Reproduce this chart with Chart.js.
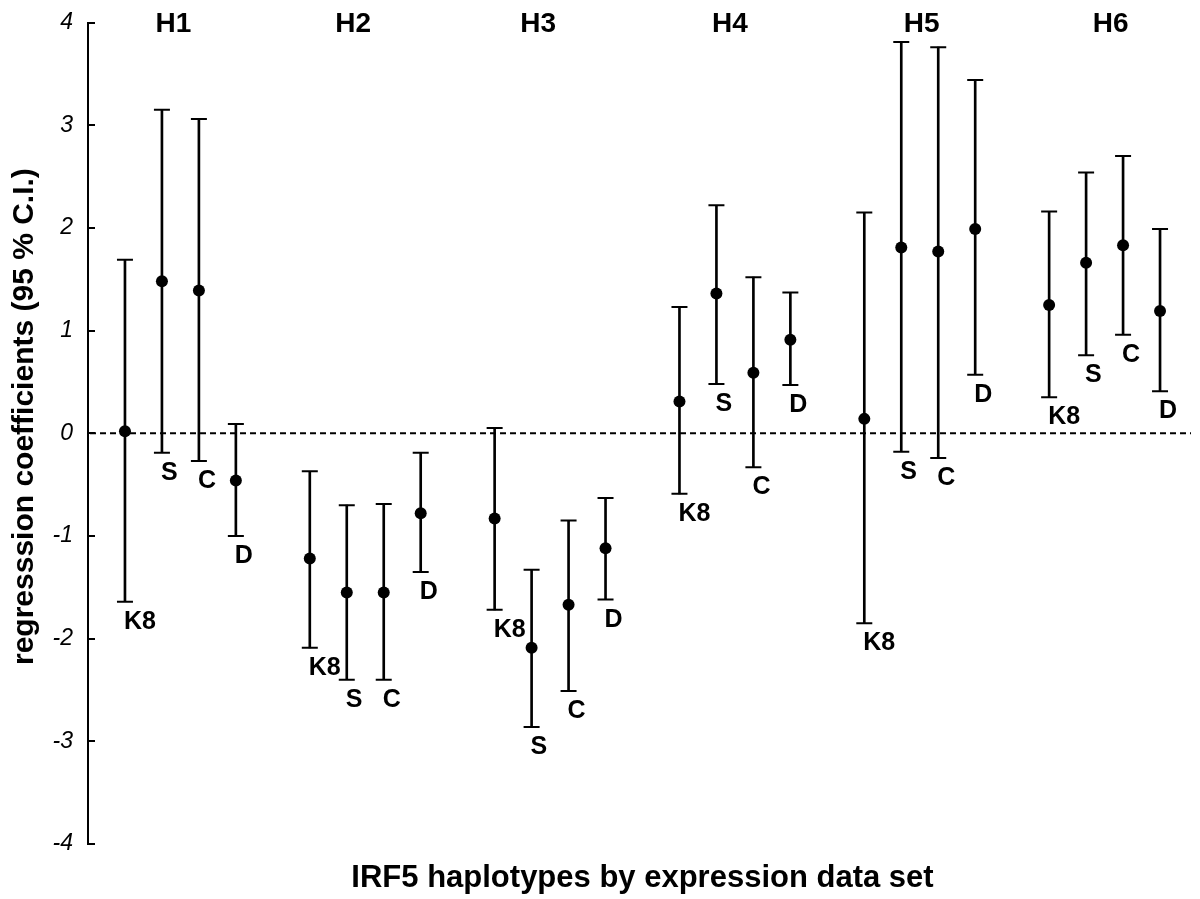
<!DOCTYPE html>
<html><head><meta charset="utf-8">
<script src="https://cdn.jsdelivr.net/npm/chart.js@4.4.1/dist/chart.umd.min.js"></script>
<style>html,body{margin:0;padding:0;background:#fff}#wrap{width:1200px;height:899px;position:relative}</style>
</head><body><div id="wrap"><canvas id="c"></canvas></div>
<script>
// ---- data ----
const haplotypes = ['H1','H2','H3','H4','H5','H6'];
const dataSets = ['K8','S','C','D'];
// ordered by haplotype, then data set (K8, S, C, D)
const estimates = [0.02,1.48,1.39,-0.46, -1.22,-1.55,-1.55,-0.78, -0.83,-2.09,-1.67,-1.12, 0.31,1.36,0.59,0.91, 0.14,1.81,1.77,1.99, 1.25,1.66,1.83,1.19];
const lowerCI   = [-1.64,-0.19,-0.27,-1.00, -2.09,-2.40,-2.40,-1.35, -1.72,-2.86,-2.51,-1.62, -0.59,0.48,-0.33,0.47, -1.85,-0.18,-0.24,0.57, 0.35,0.76,0.96,0.41];
const upperCI   = [1.69,3.15,3.06,0.09, -0.37,-0.70,-0.69,-0.19, 0.05,-1.33,-0.85,-0.63, 1.23,2.22,1.52,1.37, 2.15,3.81,3.76,3.44, 2.16,2.54,2.70,1.99];
const yTicks = [-4,-3,-2,-1,0,1,2,3,4];
const xTitle = 'IRF5 haplotypes by expression data set';
const yTitle = 'regresssion coefficients (95 % C.I.)';

// ---- build ----
const FONT = "'Liberation Sans', Arial, Helvetica, sans-serif";
const per = dataSets.length + 1; // one blank slot between haplotype groups
const rows = [];
haplotypes.forEach((h, g) => dataSets.forEach((d, s) => {
  const i = g * dataSets.length + s;
  rows.push({slot: g * per + s, h, d, est: estimates[i], lo: lowerCI[i], hi: upperCI[i]});
}));

const decor = {
  id: 'decor',
  beforeDatasetsDraw(chart) {
    const {ctx, chartArea: a, scales: {y}} = chart;
    const py = y.getPixelForValue(0);
    ctx.save();
    ctx.strokeStyle = '#000'; ctx.lineWidth = 2; ctx.setLineDash([6, 4]);
    ctx.beginPath(); ctx.moveTo(a.left + 2, py); ctx.lineTo(a.right - 6, py); ctx.stroke();
    ctx.restore();
  },
  afterDatasetsDraw(chart, args, opts) {
    const {ctx, scales: {x, y}} = chart;
    ctx.save();
    ctx.fillStyle = '#000';
    // data set labels below the lower CI cap
    ctx.font = 'bold 25px ' + FONT;
    ctx.textAlign = 'left'; ctx.textBaseline = 'alphabetic';
    rows.forEach(r => {
      ctx.fillText(r.d, x.getPixelForValue(r.slot) - 1, y.getPixelForValue(r.lo) + 27);
    });
    // haplotype headers
    ctx.font = 'bold 28px ' + FONT;
    ctx.textAlign = 'center';
    haplotypes.forEach((h, g) => {
      const cx = x.getPixelForValue(g * per + (dataSets.length - 1) / 2) + opts.headerNudge[g];
      ctx.fillText(h, cx, 32);
    });
    ctx.restore();
  },
  afterDraw(chart) {
    const {ctx, chartArea: a, scales: {y}} = chart;
    ctx.save();
    ctx.strokeStyle = '#000'; ctx.lineWidth = 2;
    yTicks.forEach(v => {
      const py = Math.round(y.getPixelForValue(v));
      ctx.beginPath(); ctx.moveTo(a.left, py); ctx.lineTo(a.left + 7, py); ctx.stroke();
    });
    ctx.restore();
  }
};

new Chart(document.getElementById('c'), {
  type: 'bar',
  data: {
    datasets: [
      {
        type: 'bar', label: 'CI',
        data: rows.map(r => ({x: r.slot, y: [r.lo, r.hi]})),
        backgroundColor: '#000', borderWidth: 0, barThickness: 2, grouped: false, order: 3
      },
      {
        type: 'scatter', label: 'caps',
        data: rows.flatMap(r => [{x: r.slot, y: r.lo}, {x: r.slot, y: r.hi}]),
        pointStyle: 'line', pointRadius: 8, pointBorderWidth: 2, borderColor: '#000', backgroundColor: '#000', order: 2
      },
      {
        type: 'scatter', label: 'estimate',
        data: rows.map(r => ({x: r.slot, y: r.est})),
        pointStyle: 'circle', pointRadius: 6, borderWidth: 0, backgroundColor: '#000', borderColor: '#000', order: 1
      }
    ]
  },
  options: {
    responsive: true, maintainAspectRatio: false, animation: false,
    layout: {autoPadding: false, padding: {left: 0, top: 22.5, right: 3, bottom: 0}},
    plugins: {legend: {display: false}, tooltip: {enabled: false}, decor: {headerNudge: [-7, -12, -12, -5, 2, 6]}},
    scales: {
      x: {
        type: 'linear', offset: false, min: -1, max: haplotypes.length * per - 1,
        grid: {display: false, offset: false}, border: {display: false}, ticks: {display: false},
        title: {display: true, text: xTitle, color: '#000', font: {family: FONT, size: 31, weight: 'bold'}, padding: {top: 0, bottom: 2}},
        afterFit: s => { s.height = 55; }
      },
      y: {
        type: 'linear', min: yTicks[0], max: yTicks[yTicks.length - 1],
        afterBuildTicks: s => { s.ticks = yTicks.map(v => ({value: v})); },
        grid: {display: false},
        border: {display: true, color: '#000', width: 2},
        ticks: {color: '#000', padding: 7, font: {family: FONT, size: 23, style: 'italic'}},
        title: {display: true, text: '    ' + yTitle, color: '#000', font: {family: FONT, size: 30, weight: 'bold'}, padding: {top: 7, bottom: 0}},
        afterFit: s => { s.width = 88; }
      }
    }
  },
  plugins: [decor]
});
</script></body></html>
